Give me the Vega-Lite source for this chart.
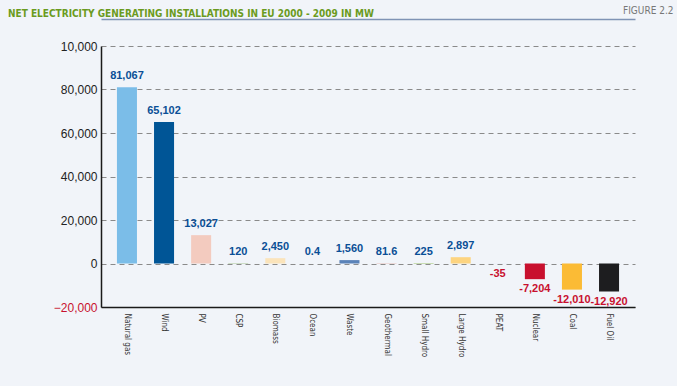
{
  "$schema": "https://vega.github.io/schema/vega-lite/v6.json",
  "autosize": "none",
  "width": 534,
  "height": 261,
  "padding": {"left": 101, "top": 46, "right": 42, "bottom": 79},
  "background": "#f1f4f9",
  "config": {
    "view": {"stroke": null},
    "font": "DejaVu Sans Condensed, Liberation Sans, sans-serif"
  },
  "title": {
    "text": "NET ELECTRICITY GENERATING INSTALLATIONS IN EU 2000 - 2009 IN MW",
    "anchor": "start",
    "frame": "group",
    "dx": -93,
    "dy": 18,
    "color": "#6b9b1e",
    "fontSize": 10,
    "fontWeight": "bold",
    "font": "DejaVu Sans Condensed, Liberation Sans, sans-serif"
  },
  "data": {
    "values": [
      {"source": "Natural gas", "value": 81067, "label": "81,067", "color": "#7bbde8"},
      {"source": "Wind", "value": 65102, "label": "65,102", "color": "#005596"},
      {"source": "PV", "value": 13027, "label": "13,027", "color": "#f3cbbf"},
      {"source": "CSP", "value": 120, "label": "120", "color": "#6a9a3a"},
      {"source": "Biomass", "value": 2450, "label": "2,450", "color": "#fbe4bb"},
      {"source": "Ocean", "value": 0.4, "label": "0.4", "color": "#8fc3e8"},
      {"source": "Waste", "value": 1560, "label": "1,560", "color": "#5b83b9"},
      {"source": "Geothermal", "value": 81.6, "label": "81.6", "color": "#d8624a"},
      {"source": "Small Hydro", "value": 225, "label": "225", "color": "#9cc46a"},
      {"source": "Large Hydro", "value": 2897, "label": "2,897", "color": "#fdd480"},
      {"source": "PEAT", "value": -35, "label": "-35", "color": "#b8d7ef"},
      {"source": "Nuclear", "value": -7204, "label": "-7,204", "color": "#c8102e"},
      {"source": "Coal", "value": -12010, "label": "-12,010", "color": "#fbbb35"},
      {"source": "Fuel Oil", "value": -12920, "label": "-12,920", "color": "#1d1d1f"}
    ]
  },
  "encoding": {
    "x": {
      "field": "source",
      "type": "nominal",
      "sort": null,
      "axis": null,
      "scale": {"paddingInner": 0.46, "paddingOuter": 0.43}
    },
    "y": {
      "field": "value",
      "type": "quantitative",
      "scale": {"domain": [-20000, 100000], "nice": false, "zero": false}
    }
  },
  "layer": [
    {
      "mark": {"type": "bar", "minBandSize": 1},
      "encoding": {
        "x": {
          "field": "source",
          "type": "nominal",
          "sort": null,
          "axis": {
            "title": null,
            "labelAngle": 90,
            "labelAlign": "left",
            "labelBaseline": "middle",
            "labelFontSize": 8,
            "labelColor": "#333333",
            "labelPadding": 6,
            "ticks": false,
            "domainColor": "#1a1a1a",
            "domainWidth": 1.5
          }
        },
        "y": {
          "field": "value",
          "type": "quantitative",
          "axis": {
            "title": null,
            "values": [-20000, 0, 20000, 40000, 60000, 80000, 100000],
            "labelExpr": "datum.value == 100000 ? '10,000' : format(datum.value, ',')",
            "labelColor": {"expr": "datum.value < 0 ? '#c8102e' : '#222222'"},
            "labelFontSize": 12,
            "labelFont": "Liberation Sans",
            "labelPadding": 4,
            "ticks": false,
            "domainColor": "#1a1a1a",
            "domainWidth": 1.5,
            "grid": true,
            "gridDash": [5, 4],
            "gridColor": "#8a8a8a",
            "gridWidth": 1
          }
        },
        "color": {"field": "color", "type": "nominal", "scale": null}
      }
    },
    {
      "transform": [{"filter": "datum.value >= 0"}],
      "mark": {"type": "text", "baseline": "bottom", "dy": -6, "fontWeight": "bold", "fontSize": 11, "color": "#0a4f96", "font": "Liberation Sans"},
      "encoding": {
        "x": {
          "field": "source",
          "type": "nominal",
          "sort": null,
          "axis": {
            "orient": "top",
            "labels": false,
            "ticks": false,
            "grid": false,
            "domainColor": "#7f93b5",
            "domainWidth": 1.5,
            "offset": 27,
            "title": "FIGURE 2.2",
            "titleAnchor": "end",
            "titleAlign": "right",
            "titleX": 572,
            "titleY": -4,
            "titleColor": "#777777",
            "titleFontSize": 10,
            "titleFontWeight": "normal",
            "titleFont": "DejaVu Sans Condensed, Liberation Sans, sans-serif"
          }
        },
        "text": {"field": "label"}
      }
    },
    {
      "transform": [{"filter": "datum.value < 0"}],
      "mark": {"type": "text", "baseline": "top", "dy": 4, "fontWeight": "bold", "fontSize": 11, "color": "#c8102e", "font": "Liberation Sans"},
      "encoding": {
        "text": {"field": "label"}
      }
    }
  ],
  "resolve": {"axis": {"x": "independent"}}
}
